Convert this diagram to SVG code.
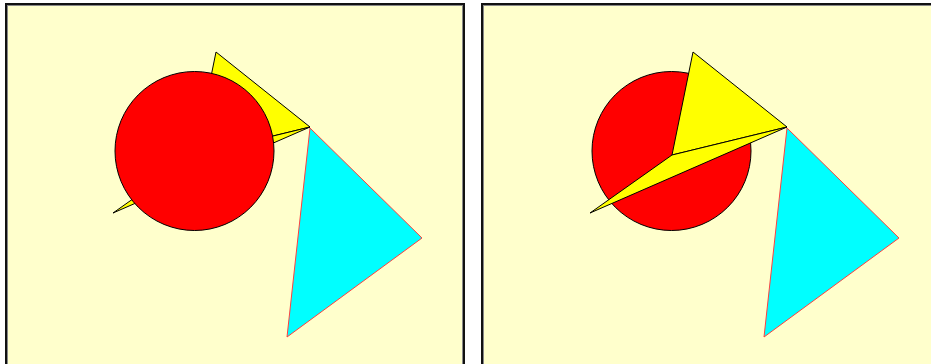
<svg xmlns="http://www.w3.org/2000/svg" width="931" height="364" viewBox="0 0 931 364">
<style>
.panel{fill:#FFFFCC;stroke:#111;stroke-width:2}
.inner{fill:none;stroke:#888;stroke-width:1}
.circ{fill:#FF0000;stroke:#000;stroke-width:1}
.yel{fill:#FFFF00;stroke:#000;stroke-width:1;stroke-linejoin:round}
.cyan{fill:#00FFFF;stroke:#FF4040;stroke-width:1}
</style>
<rect width="931" height="364" fill="#FFFFFF"/>
<g id="left-panel">
<rect class="panel" x="6" y="4" width="458" height="380"/>
<rect class="inner" x="7.5" y="5.5" width="455" height="380"/>
<g id="left-yellow">
<polygon class="yel" points="216,52 310,127 195,155"/>
<polygon class="yel" points="195,155 310,127 113,213"/>
</g>
<g id="left-circle"><circle class="circ" cx="194.5" cy="151" r="79.5"/></g>
<g id="left-cyan"><polygon class="cyan" points="310,128 422,238 287,337"/></g>
</g>
<g id="right-panel">
<rect class="panel" x="482" y="4" width="470" height="380"/>
<rect class="inner" x="483.5" y="5.5" width="470" height="380"/>
<g id="right-circle"><circle class="circ" cx="671.5" cy="151" r="79.5"/></g>
<g id="right-yellow">
<polygon class="yel" points="693,52 787,127 672,155"/>
<polygon class="yel" points="672,155 787,127 590,213"/>
</g>
<g id="right-cyan"><polygon class="cyan" points="787,128 899,238 764,337"/></g>
</g>
</svg>
